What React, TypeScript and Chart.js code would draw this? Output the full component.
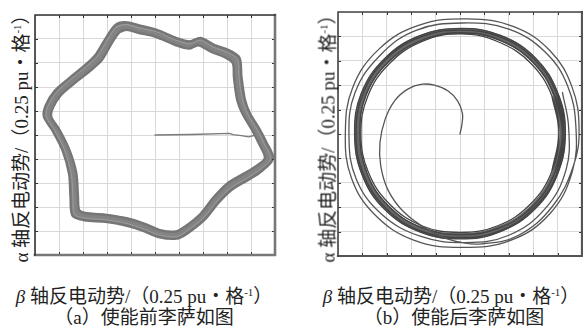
import React, { useEffect, useRef } from "react";
import { Chart, registerables } from "chart.js";

Chart.register(...registerables);

type P = [number, number];

// Axis range, in grid divisions (0.25 pu per division)
const AXIS_MIN = -5;
const AXIS_MAX = 5;
const GRID_STEP = 1;

// (a) before enabling: main trace band (centre, outer edge, inner edge, texture pass)
const LEFT_BAND_MID: P[] = [
  [-1.21, 4.54], [-0.65, 4.4], [0.04, 4.24], [0.88, 3.89], [1.43, 3.75], [1.85, 3.89], [2.4, 3.61], [2.96, 3.4],
  [3.38, 3.12], [3.44, 2.43], [3.58, 1.46], [3.79, 0.9], [4.21, 0.2], [4.49, -0.35], [4.76, -0.97], [4.35, -1.39],
  [3.79, -1.74], [3.1, -2.15], [2.54, -2.71], [1.99, -3.4], [1.29, -3.96], [0.88, -4.17], [0.18, -4.1], [-0.51, -3.82],
  [-1.21, -3.61], [-2.04, -3.47], [-2.88, -3.4], [-3.29, -3.26], [-3.36, -2.57], [-3.43, -1.6], [-3.71, -0.63],
  [-4.13, 0.21], [-4.47, 0.76], [-4.4, 1.18], [-4.06, 1.74], [-3.43, 2.29], [-2.74, 2.85], [-2.32, 3.26],
  [-1.9, 3.96], [-1.56, 4.44],
];
const LEFT_BAND_OUT: P[] = [
  [-1.25, 4.7], [-0.62, 4.56], [0.08, 4.38], [0.9, 4.04], [1.45, 3.9], [1.9, 4.04], [2.48, 3.75], [3.05, 3.55],
  [3.52, 3.22], [3.6, 2.45], [3.74, 1.5], [3.95, 0.92], [4.36, 0.24], [4.64, -0.3], [4.92, -0.98], [4.45, -1.5],
  [3.9, -1.86], [3.2, -2.28], [2.65, -2.82], [2.08, -3.52], [1.35, -4.1], [0.9, -4.32], [0.15, -4.25], [-0.55, -3.97],
  [-1.25, -3.76], [-2.06, -3.62], [-2.95, -3.55], [-3.44, -3.36], [-3.52, -2.6], [-3.58, -1.62], [-3.86, -0.62],
  [-4.28, 0.2], [-4.63, 0.77], [-4.55, 1.24], [-4.18, 1.84], [-3.54, 2.4], [-2.86, 2.96], [-2.45, 3.38],
  [-2.04, 4.05], [-1.66, 4.58],
];
const LEFT_BAND_IN: P[] = [
  [-1.18, 4.38], [-0.66, 4.25], [0.0, 4.1], [0.85, 3.75], [1.42, 3.6], [1.8, 3.74], [2.33, 3.47], [2.86, 3.26],
  [3.24, 3.0], [3.29, 2.4], [3.43, 1.44], [3.64, 0.9], [4.06, 0.18], [4.34, -0.38], [4.58, -0.95], [4.24, -1.28],
  [3.68, -1.62], [3.0, -2.03], [2.44, -2.6], [1.9, -3.28], [1.24, -3.82], [0.86, -4.02], [0.2, -3.96], [-0.48, -3.68],
  [-1.18, -3.47], [-2.02, -3.33], [-2.8, -3.26], [-3.15, -3.14], [-3.21, -2.54], [-3.28, -1.58], [-3.56, -0.64],
  [-3.98, 0.22], [-4.32, 0.75], [-4.26, 1.12], [-3.94, 1.64], [-3.32, 2.18], [-2.62, 2.74], [-2.2, 3.14],
  [-1.78, 3.86], [-1.46, 4.3],
];
const LEFT_BAND_TEX: P[] = [
  [-1.2, 4.6], [-0.6, 4.44], [0.06, 4.3], [0.86, 3.95], [1.47, 3.8], [1.88, 3.95], [2.42, 3.66], [3.0, 3.44],
  [3.44, 3.14], [3.5, 2.4], [3.64, 1.48], [3.86, 0.88], [4.28, 0.18], [4.55, -0.36], [4.82, -0.98], [4.38, -1.44],
  [3.83, -1.8], [3.15, -2.2], [2.58, -2.76], [2.02, -3.45], [1.3, -4.02], [0.88, -4.24], [0.16, -4.16], [-0.53, -3.9],
  [-1.23, -3.67], [-2.06, -3.53], [-2.92, -3.46], [-3.36, -3.3], [-3.42, -2.56], [-3.49, -1.62], [-3.77, -0.62],
  [-4.2, 0.22], [-4.53, 0.77], [-4.46, 1.2], [-4.1, 1.78], [-3.48, 2.34], [-2.8, 2.9], [-2.38, 3.3],
  [-1.96, 4.0], [-1.6, 4.5],
];
// start-up segment from the origin to the band
const LEFT_START: P[] = [
  [0, 0], [1.5, 0.02], [3.1, 0.07], [3.25, 0.02], [3.6, -0.03], [3.9, -0.08], [4.2, 0.0],
];

// (b) after enabling: start-up spiral that widens into the outer loops
const RIGHT_SPIRAL: P[] = [
  [0, 0], [0.08, 0.4], [0.1, 0.85], [-0.1, 1.36], [-0.5, 1.77], [-1.05, 2.0], [-1.55, 2.04], [-2.14, 1.84],
  [-2.68, 1.36], [-3.07, 0.6], [-3.28, -0.35], [-3.25, -1.3], [-2.95, -2.3], [-2.3, -3.2], [-1.35, -3.9],
  [-0.35, -4.35], [0.9, -4.5], [2.4, -4.15], [3.8, -2.95], [4.65, -1.3], [4.88, 0.2], [4.6, 1.9], [3.7, 3.4],
  [2.2, 4.4], [0.3, 4.72], [-1.7, 4.45], [-3.3, 3.5], [-4.4, 1.9], [-4.7, 0], [-4.45, -1.8], [-3.5, -3.3],
  [-1.9, -4.35], [0.1, -4.65], [2.1, -4.35], [3.7, -3.25], [4.6, -1.55], [4.75, 0.3], [4.4, 2.0], [3.5, 3.35],
  [2.0, 4.3], [0.1, 4.55], [-1.8, 4.25], [-3.25, 3.25], [-4.3, 1.7], [-4.55, -0.1], [-4.25, -1.85], [-3.2, -3.3],
  [-1.6, -4.2], [0.2, -4.45], [2.0, -4.15], [3.5, -3.05], [4.35, -1.45], [4.45, 0.3], [4.2, 1.7],
];
// steady-state ring loops
const RIGHT_RING_1: P[] = [
  [4.2, 0], [3.92, 1.62], [3.05, 3.02], [1.62, 3.95], [0, 4.22], [-1.62, 3.93], [-3.02, 3.02], [-3.95, 1.6],
  [-4.2, 0], [-3.93, -1.6], [-3.03, -3.0], [-1.62, -3.92], [0, -4.18], [1.6, -3.9], [3.0, -3.0], [3.9, -1.6],
];
const RIGHT_RING_2: P[] = [
  [4.05, 0.05], [3.76, 1.58], [2.9, 2.9], [1.56, 3.78], [0.02, 4.1], [-1.55, 3.8], [-2.9, 2.88], [-3.78, 1.55],
  [-4.06, 0], [-3.76, -1.56], [-2.88, -2.88], [-1.55, -3.77], [0, -4.03], [1.55, -3.76], [2.88, -2.88], [3.76, -1.55],
];
const RIGHT_RING_3: P[] = [
  [4.32, 0.1], [4.0, 1.7], [3.1, 3.1], [1.68, 4.03], [0.05, 4.33], [-1.66, 4.02], [-3.08, 3.1], [-4.05, 1.66],
  [-4.32, 0.02], [-4.02, -1.65], [-3.1, -3.08], [-1.66, -4.0], [0.02, -4.3], [1.66, -4.0], [3.08, -3.07], [4.0, -1.64],
];
const RIGHT_RING_4: P[] = [
  [4.2, 0.02], [3.88, 1.56], [2.98, 2.95], [1.62, 3.85], [0.06, 4.15], [-1.52, 3.86], [-2.92, 2.96], [-3.85, 1.6],
  [-4.1, 0.04], [-3.82, -1.58], [-2.94, -2.94], [-1.56, -3.84], [0.06, -4.12], [1.64, -3.84], [3.0, -2.94], [3.9, -1.56],
];
const RIGHT_RING_5: P[] = [
  [4.26, -0.05], [3.95, 1.66], [3.04, 3.06], [1.64, 3.98], [-0.02, 4.26], [-1.66, 3.96], [-3.06, 3.04], [-3.98, 1.64],
  [-4.26, -0.02], [-3.96, -1.64], [-3.04, -3.04], [-1.64, -3.96], [0, -4.24], [1.66, -3.96], [3.04, -3.02], [3.96, -1.66],
];

const Y_TITLE = "α 轴反电动势/（0.25 pu・格";
const X_TITLE = "轴反电动势/（0.25 pu・格";
const CAPTION_A = "（a）使能前李萨如图";
const CAPTION_B = "（b）使能后李萨如图";

const FONT = "'Liberation Serif', 'Noto Sans CJK SC', serif";

// wrap a closed loop so the smoothed curve joins without a kink
const closeLoop = (pts: P[]): P[] => [pts[pts.length - 1], ...pts, pts[0], pts[1]];

const toXY = (pts: P[]) => pts.map(([x, y]) => ({ x, y }));

const line = (pts: P[], color: string, width: number, tension: number) => ({
  data: toXY(pts),
  showLine: true,
  borderColor: color,
  backgroundColor: color,
  borderWidth: width,
  tension,
  pointRadius: 0,
  pointHoverRadius: 0,
  fill: false,
  borderJoinStyle: "round" as const,
  borderCapStyle: "round" as const,
});

const boxPlugin = (leftTopColor: string, rightBottomColor: string, rbWidth: number) => ({
  id: "box",
  afterDraw(chart: any) {
    const { ctx, chartArea: a, scales } = chart;
    ctx.save();
    ctx.strokeStyle = "#333";
    ctx.lineWidth = 1;
    const xs = scales.x, ys = scales.y;
    for (let v = AXIS_MIN + GRID_STEP; v < AXIS_MAX; v += GRID_STEP) {
      const px = Math.round(xs.getPixelForValue(v)) + 0.5;
      const py = Math.round(ys.getPixelForValue(v)) + 0.5;
      ctx.beginPath();
      ctx.moveTo(px, a.top); ctx.lineTo(px, a.top + 3);
      ctx.moveTo(px, a.bottom); ctx.lineTo(px, a.bottom - 3);
      ctx.moveTo(a.left, py); ctx.lineTo(a.left + 3, py);
      ctx.moveTo(a.right, py); ctx.lineTo(a.right - 3, py);
      ctx.stroke();
    }
    ctx.lineCap = "square";
    ctx.strokeStyle = rightBottomColor;
    ctx.lineWidth = rbWidth;
    ctx.beginPath();
    ctx.moveTo(a.right, a.top);
    ctx.lineTo(a.right, a.bottom);
    ctx.lineTo(a.left, a.bottom);
    ctx.stroke();
    ctx.strokeStyle = leftTopColor;
    ctx.lineWidth = 1.6;
    ctx.beginPath();
    ctx.moveTo(a.left, a.bottom);
    ctx.lineTo(a.left, a.top);
    ctx.lineTo(a.right, a.top);
    ctx.stroke();
    ctx.restore();
  },
});

const scaleOpts = () => ({
  type: "linear" as const,
  min: AXIS_MIN,
  max: AXIS_MAX,
  ticks: { display: false, stepSize: GRID_STEP },
  grid: { color: "#d9d9d9", lineWidth: 1, drawTicks: false },
  border: { display: false },
});

function Plot(props: {
  datasets: any[];
  left: number; top: number; width: number; height: number;
  padding: { left: number; top: number; right: number; bottom: number };
  ltColor: string; rbColor: string; rbWidth: number;
}) {
  const ref = useRef<HTMLCanvasElement>(null);
  useEffect(() => {
    if (!ref.current) return;
    const chart = new Chart(ref.current, {
      type: "scatter",
      data: { datasets: props.datasets },
      options: {
        animation: false,
        responsive: false,
        maintainAspectRatio: false,
        events: [],
        layout: { padding: props.padding },
        plugins: { legend: { display: false }, tooltip: { enabled: false } },
        scales: { x: scaleOpts(), y: scaleOpts() },
      },
      plugins: [boxPlugin(props.ltColor, props.rbColor, props.rbWidth)],
    } as any);
    return () => chart.destroy();
  }, []);
  return (
    <canvas
      ref={ref}
      width={props.width}
      height={props.height}
      style={{ position: "absolute", left: props.left, top: props.top, width: props.width, height: props.height, display: "block" }}
    />
  );
}

const textBase: React.CSSProperties = {
  position: "absolute",
  fontFamily: FONT,
  fontSize: 19,
  color: "#222",
  whiteSpace: "nowrap",
  lineHeight: "22px",
};

function Sup() {
  return <span style={{ fontSize: 11, verticalAlign: "7px" }}>-1</span>;
}

function YTitle({ cx, cy }: { cx: number; cy: number }) {
  return (
    <div style={{ ...textBase, left: cx, top: cy, transform: "translate(-50%, -50%) rotate(-90deg)" }}>
      {Y_TITLE}<Sup />）
    </div>
  );
}

function XTitle({ cx, cy }: { cx: number; cy: number }) {
  return (
    <div style={{ ...textBase, left: cx, top: cy, transform: "translate(-50%, -50%)" }}>
      <i>β</i> {X_TITLE}<Sup />）
    </div>
  );
}

function Caption({ cx, cy, text }: { cx: number; cy: number; text: string }) {
  return <div style={{ ...textBase, left: cx, top: cy, transform: "translate(-50%, -50%)" }}>{text}</div>;
}

export default function App() {
  const leftSets = [
    line(closeLoop(LEFT_BAND_TEX), "#9c9c9c", 1, 0.3),
    line(closeLoop(LEFT_BAND_OUT), "#767676", 2.4, 0.3),
    line(closeLoop(LEFT_BAND_IN), "#767676", 2.4, 0.3),
    line(closeLoop(LEFT_BAND_MID), "#838383", 8, 0.3),
    line(LEFT_START, "#7a7a7a", 1.3, 0),
  ];
  const rightSets = [
    line(RIGHT_SPIRAL, "#555", 1.3, 0.4),
    line(closeLoop(RIGHT_RING_2), "#444", 1.3, 0.4),
    line(closeLoop(RIGHT_RING_3), "#444", 1.3, 0.4),
    line(closeLoop(RIGHT_RING_4), "#444", 1.3, 0.4),
    line(closeLoop(RIGHT_RING_5), "#444", 1.3, 0.4),
    line(closeLoop(RIGHT_RING_1), "#666", 6, 0.4),
  ];
  return (
    <div style={{ position: "fixed", left: 0, top: 0, width: 583, height: 336, background: "#fff", overflow: "hidden" }}>
      <Plot
        datasets={leftSets}
        left={33} top={13} width={245} height={245}
        padding={{ left: 2, top: 2, right: 3, bottom: 3 }}
        ltColor="#333" rbColor="#777" rbWidth={2.6}
      />
      <Plot
        datasets={rightSets}
        left={336} top={10} width={247} height={249}
        padding={{ left: 2, top: 2, right: 1, bottom: 3 }}
        ltColor="#444" rbColor="#555" rbWidth={2.2}
      />
      <YTitle cx={19} cy={134} />
      <YTitle cx={326} cy={134} />
      <XTitle cx={144} cy={294} />
      <XTitle cx={451} cy={294} />
      <Caption cx={144} cy={318} text={CAPTION_A} />
      <Caption cx={454} cy={318} text={CAPTION_B} />
    </div>
  );
}
